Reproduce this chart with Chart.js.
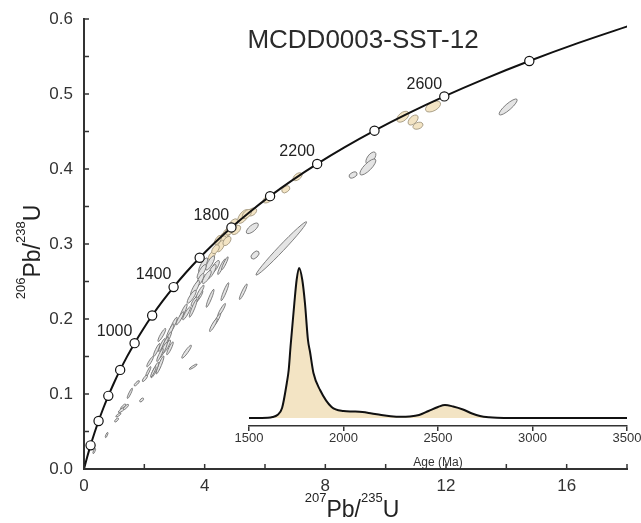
<!DOCTYPE html>
<html><head><meta charset="utf-8">
<script src="https://cdn.jsdelivr.net/npm/chart.js@4.4.1/dist/chart.umd.min.js"></script>
<style>
html,body{margin:0;padding:0;background:#fff;}
#wrap{position:relative;width:641px;height:523px;overflow:hidden;}
#main{position:absolute;left:0;top:0;}
#inset{position:absolute;left:230px;top:250px;pointer-events:none;}
</style></head><body>
<div id="wrap"><canvas id="main" width="641" height="523"></canvas><canvas id="inset" width="411" height="220"></canvas></div>
<script>
// ---- Concordia (age in Ma, 207Pb/235U, 206Pb/238U) ----
const concAges = [0,100,200,300,400,500,600,700,800,900,1000,1100,1200,1300,1400,1500,1600,1700,1800,1900,2000,2100,2200,2300,2400,2500,2600,2700,2800,2900,3000];
const concX = [0,0.1035,0.2177,0.3437,0.4828,0.6363,0.8056,0.9925,1.1987,1.4263,1.6774,1.9545,2.2603,2.5977,2.9701,3.3810,3.8344,4.3348,4.8869,5.4962,6.1685,6.9105,7.7292,8.6326,9.6296,10.7297,11.9437,13.2834,14.7617,16.3930,18.1931];
const concY = [0,0.01563,0.03151,0.04764,0.06402,0.08065,0.09754,0.11470,0.13213,0.14983,0.16780,0.18606,0.20460,0.22343,0.24256,0.26199,0.28172,0.30175,0.32210,0.34277,0.36377,0.38509,0.40674,0.42873,0.45107,0.47375,0.49679,0.52019,0.54396,0.56810,0.59261];
const markerAges = [200,400,600,800,1000,1200,1400,1600,1800,2000,2200,2400,2600,2800];
const labelAges = [1000,1400,1800,2200,2600];

// ---- Error ellipses: centre, half extents, correlation, concordant flag ----
const ellX  = [14.06,11.57,10.57,10.91,11.07,9.51,9.41,8.92,7.08,6.69,6.10,5.28,5.57,5.40,4.90,5.04,4.73,4.62,4.56,4.53,4.74,4.24,4.44,5.58,5.67,6.54,3.95,4.18,4.34,4.23,3.90,4.07,3.85,4.56,4.67,3.68,3.57,3.79,3.68,4.18,4.67,5.28,3.62,3.29,3.18,4.56,4.40,4.29,2.96,2.85,3.85,3.40,2.74,2.58,2.79,2.58,2.69,2.63,2.52,2.85,3.40,3.62,2.19,2.52,2.35,2.13,2.02,1.75,1.52,1.91,1.30,1.25,1.14,1.08,0.75,0.34,2.41,2.30,1.39,4.95,4.83,4.36];
const ellY  = [0.4827,0.4833,0.4697,0.4653,0.4577,0.4147,0.4027,0.3920,0.3897,0.3729,0.3600,0.3367,0.3427,0.3400,0.3227,0.3187,0.3143,0.3093,0.3031,0.2973,0.3040,0.2847,0.3053,0.3209,0.2853,0.2941,0.2720,0.2747,0.2693,0.2631,0.2631,0.2560,0.2520,0.2697,0.2743,0.2409,0.2297,0.2297,0.2240,0.2276,0.2364,0.2364,0.2143,0.2097,0.2009,0.2120,0.1987,0.1920,0.1920,0.1831,0.2364,0.2076,0.1631,0.1787,0.1743,0.1653,0.1676,0.1587,0.1520,0.1609,0.1564,0.1364,0.1431,0.1387,0.1320,0.1297,0.1209,0.1143,0.1009,0.0920,0.0831,0.0787,0.0720,0.0653,0.0453,0.0240,0.1587,0.1297,0.0827,0.3270,0.3180,0.2930];
const ellSX = [0.30,0.25,0.20,0.166,0.166,0.166,0.265,0.133,0.15,0.133,0.166,0.19,
  0.153,0.153,0.153,0.153,0.153,0.153,0.153,0.133,0.133,0.115,0.115,
  0.20,0.133,0.839,
  0.15,0.15,0.15,0.15,0.15,0.15,0.13,0.13,0.11,0.15,0.15,0.15,0.13,0.13,0.13,0.13,0.13,0.13,0.13,0.13,0.13,0.13,0.13,0.13,0.13,0.13,0.13,0.13,
  0.11,0.11,0.11,0.13,0.11,0.11,0.16,0.13,0.11,0.13,0.13,0.086,0.086,0.086,0.086,0.065,0.086,0.11,0.086,0.065,0.043,0.043,0.11,0.086,0.086,
  0.15,0.15,0.12];
const ellSY = [0.0107,0.0073,0.0073,0.0067,0.0047,0.0080,0.0107,0.0040,0.0053,0.0047,0.0053,0.0092,
  0.0054,0.0061,0.0061,0.0061,0.0077,0.0061,0.0077,0.0077,0.0061,0.0061,0.0061,
  0.0071,0.0053,0.0356,
  0.0095,0.0095,0.0087,0.0095,0.0095,0.0087,0.0087,0.0104,0.0087,0.0104,0.0087,0.0087,0.0069,0.0120,0.0120,0.0104,0.0120,0.0104,0.0087,0.0087,0.0087,0.0087,0.0104,0.0104,0.0087,0.0087,0.0087,0.0087,
  0.0087,0.0087,0.0087,0.0104,0.0087,0.0087,0.0087,0.0035,0.0069,0.0120,0.0104,0.0069,0.0043,0.0035,0.0069,0.0026,0.0035,0.0035,0.0026,0.0026,0.0035,0.0035,0.0087,0.0069,0.0035,
  0.0065,0.0060,0.0060];
const ellRho = [0.87,0.5,0.5,0.5,0.3,0.6,0.8,0.4,0.5,0.4,0.5,0.6,
  0.4,0.5,0.5,0.5,0.6,0.5,0.6,0.6,0.5,0.6,0.6,
  0.7,0.5,0.987,
  0.8,0.8,0.8,0.8,0.8,0.8,0.8,0.92,0.92,0.85,0.85,0.85,0.8,0.92,0.92,0.92,0.92,0.9,0.9,0.92,0.92,0.9,0.9,0.9,0.9,0.9,0.9,0.9,
  0.9,0.9,0.9,0.9,0.9,0.9,0.92,0.9,0.9,0.92,0.9,0.9,0.8,0.8,0.9,0.6,0.8,0.8,0.8,0.7,0.8,0.8,0.9,0.9,0.8,
  0.5,0.5,0.5];
const ellConcordant = [0,1,1,1,1,0,0,0,1,1,1,1,1,1,1,1,1,1,1,1,1,1,1,0,0,0,0,0,0,0,0,0,0,0,0,0,0,0,0,0,0,0,0,0,0,0,0,0,0,0,0,0,0,0,0,0,0,0,0,0,0,0,0,0,0,0,0,0,0,0,0,0,0,0,0,0,0,0,0,1,1,1];

// ---- Axis tick labels ----
const xTickLabels = ['0','4','8','12','16'];
const yTickLabels = ['0.0','0.1','0.2','0.3','0.4','0.5','0.6'];

// ---- Inset KDE (age Ma, relative density) ----
const kdeAges    = [1500,1600,1625,1650,1675,1700,1710,1720,1740,1752,1765,1782,1796,1812,1823,1841,1876,1937,2000,2050,2100,2150,2200,2250,2300,2350,2400,2450,2500,2537,2580,2632,2680,2722,2770,2812,2900,3500];
const kdeDensity = [0,0.3,1,3,10,35,48,72,115,138,150,138,115,78,66,45,28,11,7,6.5,6,4.5,3,1.8,1.2,1.5,3,7,11,13,11.5,8.5,4.5,2,0.7,0.2,0,0];
const insetTicks = ['1500','2000','2500','3000','3500'];

const FONT = '"Liberation Sans", Arial, Helvetica, sans-serif';

function drawSupText(ctx, parts, cx, cy, angle){
  const mainF = '23px ' + FONT, supF = '13px ' + FONT;
  let w = 0;
  parts.forEach(p=>{ctx.font = p[1]?supF:mainF; w += ctx.measureText(p[0]).width;});
  ctx.save();
  ctx.translate(cx, cy); ctx.rotate(angle);
  ctx.textBaseline = 'alphabetic'; ctx.textAlign = 'left';
  let x = -w/2;
  parts.forEach(p=>{
    ctx.font = p[1]?supF:mainF;
    ctx.fillText(p[0], x, p[1] ? -15 : 0);
    x += ctx.measureText(p[0]).width;
  });
  ctx.restore();
}

const ellipsePlugin = {
  id:'ellipses',
  beforeDatasetsDraw(chart){
    const {ctx, chartArea:a, scales:{x, y}} = chart;
    const kx = x.getPixelForValue(1) - x.getPixelForValue(0);
    const ky = y.getPixelForValue(0) - y.getPixelForValue(1);
    ctx.save();
    ctx.beginPath(); ctx.rect(a.left, a.top, a.width, a.height); ctx.clip();
    for(let i=0;i<ellX.length;i++){
      const cx = x.getPixelForValue(ellX[i]), cy = y.getPixelForValue(ellY[i]);
      const sx = ellSX[i]*kx, sy = ellSY[i]*ky;
      const A = sx*sx, C = sy*sy, B = ellRho[i]*sx*sy;
      const m = (A+C)/2, d = Math.sqrt(((A-C)/2)**2 + B*B);
      const r1 = Math.sqrt(m+d), r2 = Math.max(Math.sqrt(Math.max(m-d,0)), 0.8);
      const th = 0.5*Math.atan2(2*B, A-C);
      ctx.beginPath();
      ctx.ellipse(cx, cy, r1, r2, -th, 0, Math.PI*2);
      if(ellConcordant[i]){ ctx.fillStyle = '#f3e4c4'; ctx.strokeStyle = '#a2967e'; }
      else { ctx.fillStyle = '#e4e4e4'; ctx.strokeStyle = '#727272'; }
      ctx.lineWidth = 0.9;
      ctx.fill(); ctx.stroke();
    }
    ctx.restore();
  }
};

const decorPlugin = {
  id:'decor',
  afterDraw(chart){
    const {ctx, chartArea:a, scales:{x, y}} = chart;
    ctx.save();
    ctx.strokeStyle = '#333'; ctx.lineWidth = 1.5;
    x.ticks.forEach(t=>{const px = x.getPixelForValue(t.value); ctx.beginPath(); ctx.moveTo(px, a.bottom); ctx.lineTo(px, a.bottom-5); ctx.stroke();});
    y.ticks.forEach(t=>{const py = y.getPixelForValue(t.value); ctx.beginPath(); ctx.moveTo(a.left, py); ctx.lineTo(a.left+5, py); ctx.stroke();});
    ctx.fillStyle = '#222'; ctx.font = '16px ' + FONT; ctx.textAlign = 'center'; ctx.textBaseline = 'middle';
    labelAges.forEach(age=>{
      const i = concAges.indexOf(age);
      const px = x.getPixelForValue(concX[i]), py = y.getPixelForValue(concY[i]);
      ctx.fillText(String(age), px-20, py-12);
    });
    ctx.fillStyle = '#2b2b2b'; ctx.font = '26px ' + FONT; ctx.textBaseline = 'alphabetic';
    ctx.fillText('MCDD0003-SST-12', 363, 48);
    ctx.fillStyle = '#222';
    drawSupText(ctx, [['207',true],['Pb/',false],['235',true],['U',false]], 352, 517, 0);
    drawSupText(ctx, [['206',true],['Pb/',false],['238',true],['U',false]], 40, 252, -Math.PI/2);
    ctx.restore();
  }
};

new Chart(document.getElementById('main'), {
  type:'line',
  data:{datasets:[
    {label:'Age markers', data: markerAges.map(a=>{const i = concAges.indexOf(a); return {x:concX[i], y:concY[i]};}),
     showLine:false, pointRadius:4.6, pointBackgroundColor:'#fff', pointBorderColor:'#111', pointBorderWidth:1.2},
    {label:'Concordia', data: concAges.map((a,i)=>({x:concX[i], y:concY[i]})),
     borderColor:'#111', borderWidth:2, pointRadius:0, cubicInterpolationMode:'monotone', fill:false}
  ]},
  options:{
    responsive:false, animation:false,
    layout:{padding:{top:19, right:14, left:0, bottom:0}},
    plugins:{legend:{display:false}, tooltip:{enabled:false}, title:{display:false}},
    scales:{
      x:{type:'linear', min:0, max:18,
         ticks:{stepSize:2, autoSkip:false, maxRotation:0, padding:7, color:'#333', font:{family:FONT, size:17},
           callback:v=>{const k = v/4; return (Number.isInteger(k) && k < xTickLabels.length) ? xTickLabels[k] : '';}},
         grid:{drawOnChartArea:false, drawTicks:false},
         border:{display:true, color:'#333', width:2},
         afterFit(s){ s.height = 54; s.paddingLeft = 0; s.paddingRight = 0; }},
      y:{type:'linear', min:0, max:0.6,
         ticks:{stepSize:0.05, autoSkip:false, padding:11, color:'#333', font:{family:FONT, size:17},
           callback:v=>{const r = Math.round(v*100); return r%10===0 ? yTickLabels[r/10] : '';}},
         grid:{drawOnChartArea:false, drawTicks:false},
         border:{display:true, color:'#333', width:2},
         afterFit(s){ s.width = 84; s.paddingTop = 0; s.paddingBottom = 0; }}
    }
  },
  plugins:[ellipsePlugin, decorPlugin]
});

new Chart(document.getElementById('inset'), {
  type:'line',
  data:{datasets:[{label:'KDE', data: kdeAges.map((a,i)=>({x:a, y:kdeDensity[i]})),
    borderColor:'#111', borderWidth:2, backgroundColor:'#f3e4c4', fill:'origin', pointRadius:0, cubicInterpolationMode:'monotone'}]},
  options:{
    responsive:false, animation:false,
    layout:{padding:{left:19, right:14, top:10, bottom:0}},
    plugins:{legend:{display:false}, tooltip:{enabled:false}},
    scales:{
      x:{type:'linear', min:1500, max:3500,
         ticks:{stepSize:500, maxRotation:0, padding:0, color:'#333', font:{family:FONT, size:13},
           callback:v=>{const k = (v-1500)/500; return Number.isInteger(k) ? insetTicks[k] : '';}},
         grid:{display:true, drawOnChartArea:false, drawTicks:true, tickLength:5, color:'#333', lineWidth:1.5},
         border:{display:true, color:'#333', width:1.5},
         title:{display:true, text:'Age (Ma)', color:'#333', font:{family:FONT, size:12}, padding:{top:0, bottom:0}},
         afterFit(s){ s.height = 44; s.paddingLeft = 0; s.paddingRight = 0; }},
      y:{display:false, min:-8, max:158}
    }
  }
});
</script>
</body></html>
